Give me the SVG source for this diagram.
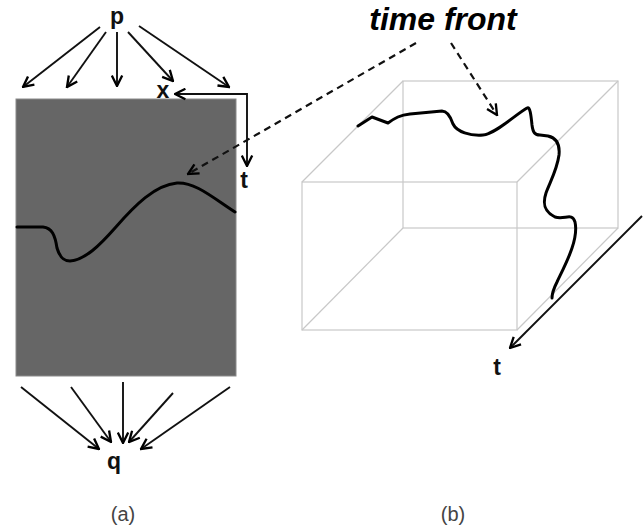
<svg xmlns="http://www.w3.org/2000/svg" width="644" height="529" viewBox="0 0 644 529">
<defs>
<marker id="ah" markerUnits="userSpaceOnUse" markerWidth="13" markerHeight="13" refX="9" refY="5" orient="auto" viewBox="0 0 10 10">
<path d="M1,1 L9,5 L1,9" fill="none" stroke="#000" stroke-width="1.8"/>
</marker>
</defs>
<style>
.lbl{font-family:"Liberation Sans",Arial,sans-serif;font-weight:bold;font-size:23px;fill:#111;text-anchor:middle}
.cap{font-family:"Liberation Sans",Arial,sans-serif;font-size:20px;fill:#444;text-anchor:middle}
.arr{stroke:#111;stroke-width:1.9;fill:none;marker-end:url(#ah)}
.dash{stroke:#111;stroke-width:2.2;fill:none;stroke-dasharray:7,5;marker-end:url(#ah)}
.cube{stroke:#c8c8c8;stroke-width:1.2;fill:none}
.front{stroke:#000;stroke-width:3;fill:none;stroke-linecap:round;stroke-linejoin:round}
</style>
<rect width="644" height="529" fill="#fff"/>
<g id="panel-a">
<rect x="16" y="99" width="220" height="277" fill="#666" stroke="#8a8a8a" stroke-width="1"/>
<path class="front" d="M17,227 L43,227 C52,228 55,235 57,248 C60,258 64,261 70,261 C85,260 100,245 115,228 C135,205 155,185 177,183 C195,182 212,197 235,212"/>
</g>
<g id="panel-b">
<g id="cube" class="cube">
<rect x="302" y="182" width="215" height="148"/>
<rect x="403" y="81" width="215" height="147"/>
<line x1="302" y1="182" x2="403" y2="81"/>
<line x1="517" y1="182" x2="618" y2="81"/>
<line x1="302" y1="330" x2="403" y2="228"/>
<line x1="517" y1="330" x2="618" y2="228"/>
</g>
<path class="front" d="M358,126 L372,117 L388,123 C395,118 400,115 410,114 L442,111 C448,111 451,118 453,124 C457,132 470,136 483,135 C495,134 515,115 527,108 C530,106 531,115 532,125 C533,133 535,135 540,135 L548,136 C557,138 560,145 559,155 C557,170 550,182 546,193 C542,205 545,212 555,217 C565,220 572,212 575,222 C579,240 565,265 557,282 C553,290 552,294 552,298"/>
</g>
<g id="labels">
<text id="p" class="lbl" x="117" y="24">p</text>
<text id="x" class="lbl" x="163" y="98">x</text>
<text id="t-a" class="lbl" x="244" y="188">t</text>
<text id="q" class="lbl" x="114" y="469">q</text>
<text id="t-b" class="lbl" x="497" y="375">t</text>
<text id="timefront" x="443" y="30" style="font-family:'Liberation Sans',Arial,sans-serif;font-weight:bold;font-style:italic;font-size:32px;fill:#000;text-anchor:middle">time front</text>
<text id="cap-a" class="cap" x="123" y="521">(a)</text>
<text id="cap-b" class="cap" x="453" y="521">(b)</text>
</g>
<g id="connectors">
<line class="arr" x1="100" y1="27" x2="23" y2="87"/>
<line class="arr" x1="106" y1="32" x2="67" y2="87"/>
<line class="arr" x1="117" y1="32" x2="117" y2="86"/>
<line class="arr" x1="128" y1="32" x2="173" y2="81"/>
<line class="arr" x1="139" y1="26" x2="229" y2="87"/>
<line class="arr" x1="247" y1="94" x2="175" y2="94"/>
<line class="arr" x1="247" y1="93" x2="247" y2="166"/>
<line class="dash" x1="416" y1="43" x2="188" y2="174"/>
<line class="dash" x1="451" y1="43" x2="497" y2="115"/>
<line class="arr" x1="642" y1="216" x2="510" y2="348"/>
<line class="arr" x1="21" y1="387" x2="99" y2="449"/>
<line class="arr" x1="71" y1="387" x2="111" y2="442"/>
<line class="arr" x1="123" y1="382" x2="123" y2="443"/>
<line class="arr" x1="173" y1="393" x2="129" y2="442"/>
<line class="arr" x1="230" y1="387" x2="141" y2="449"/>
</g>
</svg>
